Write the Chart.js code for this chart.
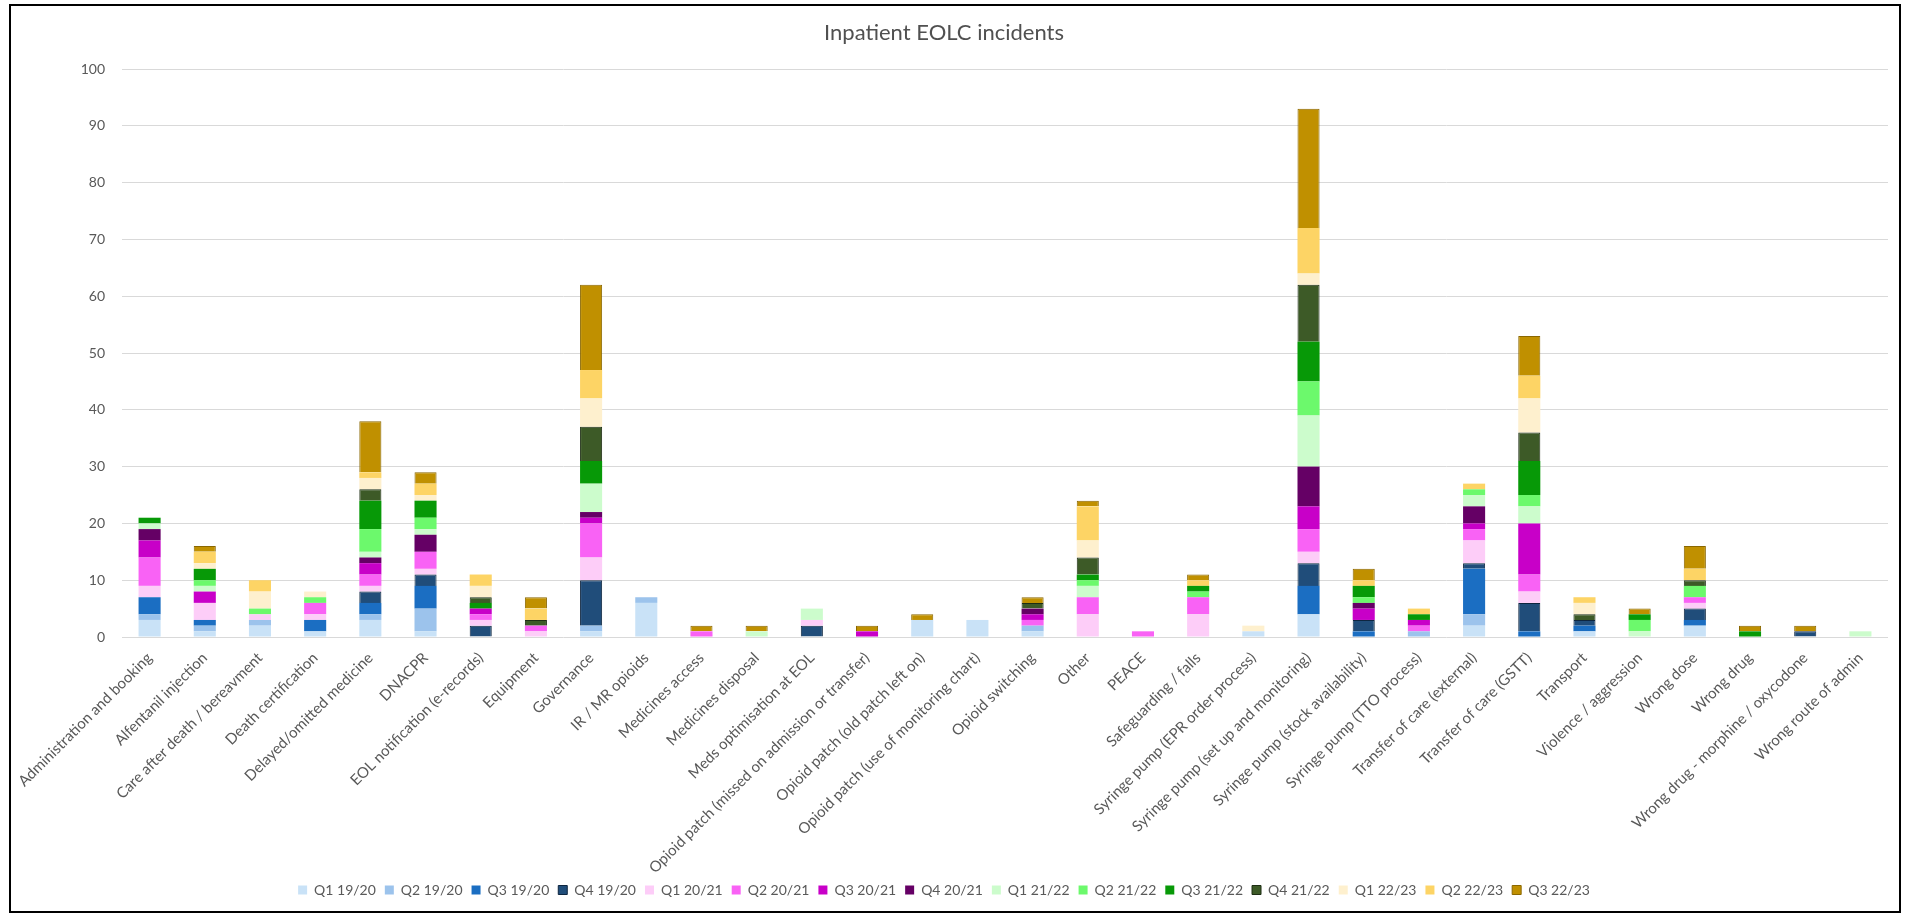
<!DOCTYPE html>
<html><head><meta charset="utf-8">
<script src="https://cdn.jsdelivr.net/npm/chart.js@4.4.1/dist/chart.umd.min.js"></script>
<style>
html,body{margin:0;padding:0;background:#fff;overflow:hidden}
#wrap{position:absolute;left:0;top:0;width:1905px;height:913px}
#frame{position:absolute;left:9px;top:4px;width:1888px;height:905px;border:2px solid #000;pointer-events:none}
</style></head><body>
<div id="wrap"><canvas id="c" width="1905" height="913"></canvas></div>
<div id="frame"></div>
<script>
const categories = ["Administration and booking","Alfentanil injection","Care after death / bereavment","Death certification","Delayed/omitted medicine","DNACPR","EOL notification (e-records)","Equipment","Governance","IR / MR opioids","Medicines access","Medicines disposal","Meds optimisation at EOL","Opioid patch (missed on admission or transfer)","Opioid patch (old patch left on)","Opioid patch (use of monitoring chart)","Opioid switching","Other","PEACE","Safeguarding / falls","Syringe pump (EPR order process)","Syringe pump (set up and monitoring)","Syringe pump (stock availability)","Syringe pump (TTO process)","Transfer of care (external)","Transfer of care (GSTT)","Transport","Violence / aggression","Wrong dose","Wrong drug","Wrong drug - morphine / oxycodone","Wrong route of admin"];

const seriesNames = ["Q1 19/20","Q2 19/20","Q3 19/20","Q4 19/20","Q1 20/21","Q2 20/21","Q3 20/21","Q4 20/21","Q1 21/22","Q2 21/22","Q3 21/22","Q4 21/22","Q1 22/23","Q2 22/23","Q3 22/23"];

const q1_1920 = [3,1,2,1,3,1,0,0,1,6,0,0,0,0,3,3,1,0,0,0,1,4,0,0,2,0,1,0,2,0,0,0];
const q2_1920 = [1,1,1,0,1,4,0,0,1,1,0,0,0,0,0,0,1,0,0,0,0,0,0,1,2,0,0,0,0,0,0,0];
const q3_1920 = [3,1,0,2,2,4,0,0,0,0,0,0,0,0,0,0,0,0,0,0,0,5,1,0,8,1,1,0,1,0,0,0];
const q4_1920 = [0,0,0,0,2,2,2,0,8,0,0,0,2,0,0,0,0,0,0,0,0,4,2,0,1,5,1,0,2,0,1,0];
const q1_2021 = [2,3,1,1,1,1,1,1,4,0,0,0,1,0,0,0,0,4,0,4,0,2,0,0,4,2,0,0,1,0,0,0];
const q2_2021 = [5,0,0,2,2,3,1,1,6,0,1,0,0,0,0,0,1,3,1,3,0,4,0,1,2,3,0,0,1,0,0,0];
const q3_2021 = [3,2,0,0,2,0,1,0,1,0,0,0,0,1,0,0,1,0,0,0,0,4,2,1,1,9,0,0,0,0,0,0];
const q4_2021 = [2,0,0,0,1,3,0,0,1,0,0,0,0,0,0,0,1,0,0,0,0,7,1,0,3,0,0,0,0,0,0,0];
const q1_2122 = [1,1,0,0,1,1,0,0,5,0,0,1,2,0,0,0,0,2,0,0,0,9,0,0,2,3,0,1,0,0,0,1];
const q2_2122 = [0,1,1,1,4,2,0,0,0,0,0,0,0,0,0,0,0,1,0,1,0,6,1,0,1,2,0,2,2,0,0,0];
const q3_2122 = [1,2,0,0,5,3,1,0,4,0,0,0,0,0,0,0,0,1,0,1,0,7,2,1,0,6,0,1,0,1,0,0];
const q4_2122 = [0,0,0,0,2,0,1,1,6,0,0,0,0,0,0,0,1,3,0,0,0,10,0,0,0,5,1,0,1,0,0,0];
const q1_2223 = [0,1,3,1,2,1,2,0,5,0,0,0,0,0,0,0,0,3,0,0,1,2,0,0,0,6,2,0,0,0,0,0];
const q2_2223 = [0,2,2,0,1,2,2,2,5,0,0,0,0,0,0,0,0,6,0,1,0,8,1,1,1,4,1,0,2,0,0,0];
const q3_2223 = [0,1,0,0,9,2,0,2,15,0,1,1,0,1,1,0,1,1,0,1,0,21,2,0,0,7,0,1,4,1,1,0];

const yTicks = [0,10,20,30,40,50,60,70,80,90,100];

const seriesValues = [q1_1920,q2_1920,q3_1920,q4_1920,q1_2021,q2_2021,q3_2021,q4_2021,q1_2122,q2_2122,q3_2122,q4_2122,q1_2223,q2_2223,q3_2223];
const colors = ["#C9E2F7","#9CC3EC","#1B6EC2","#204D7A","#FDCDF8","#F962F5","#C800C8","#650065","#CCFCCC","#6CF96C","#079907","#3D5A27","#FEF0CE","#FDD465","#C09000"];
const borders = [null,null,null,"#0E2640",null,null,null,null,null,null,null,"#1E2E14",null,null,"#8A6700"];

const datasets = seriesNames.map((n,i)=>({
  label:n,
  data: seriesValues[i].map(v=> v===0?null:v),
  backgroundColor: colors[i],
  borderColor: borders[i] || colors[i],
  borderWidth: borders[i] ? 1 : 0,
  barPercentage: 0.4,
  categoryPercentage: 1.0
}));

const FONT = "Lato, 'Open Sans', sans-serif";
new Chart(document.getElementById('c'), {
  type:'bar',
  data:{labels:categories, datasets},
  options:{
    responsive:false, animation:false, devicePixelRatio:1,
    layout:{padding:{top:0,right:17,bottom:6,left:0}},
    plugins:{
      title:{display:true,text:"Inpatient EOLC incidents",color:"#505050",
        font:{family:FONT,size:22,weight:'normal'},padding:{top:20,bottom:22.6}},
      legend:{position:'bottom',
        labels:{boxWidth:9,boxHeight:9,padding:9,color:"#595959",font:{family:FONT,size:14}}},
      tooltip:{enabled:false}
    },
    scales:{
      x:{stacked:true,grid:{display:false},border:{display:false},
        ticks:{autoSkip:false,maxRotation:45,minRotation:45,color:"#595959",font:{family:FONT,size:15},padding:4},
        afterFit:s=>{s.height=237;}},
      y:{stacked:true,min:0,max:100,
        afterBuildTicks:s=>{s.ticks=yTicks.map(v=>({value:v}));},
        grid:{color:"#D9D9D9",drawTicks:false},border:{display:false},
        ticks:{color:"#595959",font:{family:FONT,size:14},padding:17},
        afterFit:s=>{s.width=122;}}
    }
  }
});
</script>
</body></html>
